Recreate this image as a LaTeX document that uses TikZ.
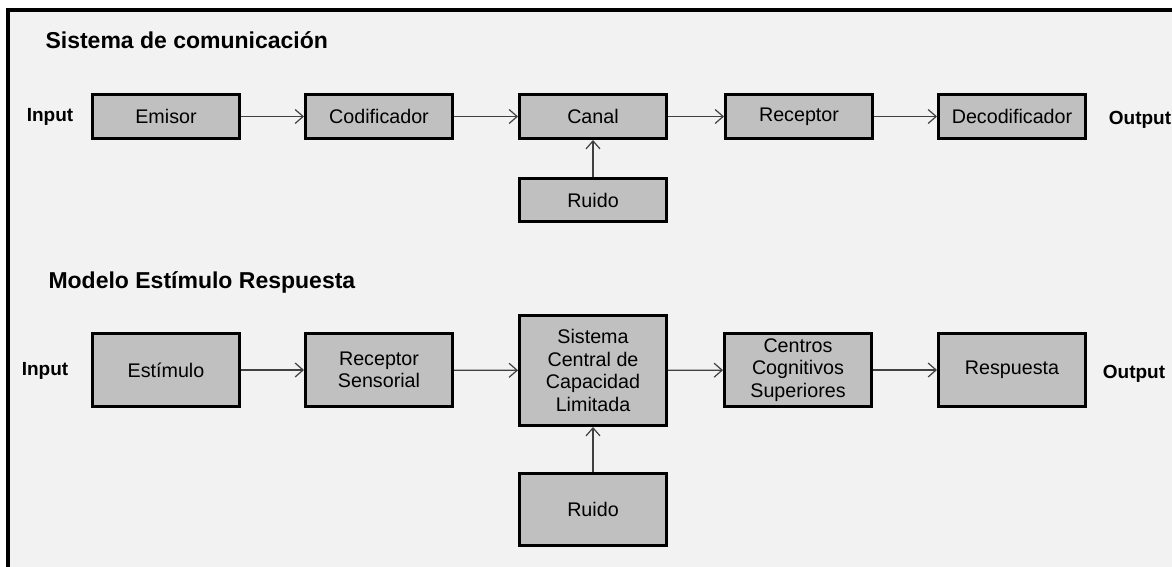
\documentclass[tikz,border=0pt]{standalone}
\usepackage{fontspec}
\setmainfont{Liberation Sans}
\usepackage{xcolor}
\usetikzlibrary{arrows.meta}
\usetikzlibrary{positioning}

\definecolor{boxgray}{HTML}{C0C0C0}
\definecolor{bggray}{HTML}{F2F2F2}
\definecolor{arrowgray}{HTML}{404040}

\tikzset{
    bloque/.style={draw=black, line width=3pt, fill=boxgray, inner sep=2pt,
        minimum width=147pt, align=center,
        font=\fontsize{19.7}{22.5}\selectfont},
    flecha/.style={draw=arrowgray, line width=1.2pt,
        -{Straight Barb[length=8pt,width=14pt,line width=1.2pt]}},
    titulo/.style={anchor=west, font=\fontsize{23}{27}\selectfont\bfseries},
    borde/.style={font=\fontsize{19}{22}\selectfont\bfseries}
}

\begin{document}
\begin{tikzpicture}[x=1pt,y=-1pt]
        \useasboundingbox (0,0) rectangle (1172,567);
        \clip (0,0) rectangle (1172,567);
        \draw[line width=4pt, fill=bggray] (7.5,10) rectangle (1190,590);

        % sistema de comunicacion
        \node[titulo] (t1) at (42,40) {Sistema de comunicación};
        \node[borde] (in1) at (50,117) {Input};
        \node[borde] (out1) at (1140,120) {Output};
        \foreach \n/\x/\txt in {e1/166/Emisor,e2/379/Codificador,e3/593/Canal,e4/799/Receptor,e5/1012/Decodificador} {
            \node[bloque, minimum height=44pt] (\n) at (\x,116.5) {\txt};
        }
        \node[bloque, minimum height=43pt] (r1) at (593,200) {Ruido};
        \foreach \a/\b in {e1/e2,e2/e3,e3/e4,e4/e5} {
            \draw[flecha] (\a) -- (\b);
        }
        \draw[flecha] (r1) -- (e3);

        % modelo estimulo respuesta
        \node[titulo] (t2) at (45,282) {Modelo Estímulo Respuesta};
        \node[borde] (in2) at (45,371) {Input};
        \node[borde] (out2) at (1134,374) {Output};
        \foreach \n/\x/\txt in {m1/166/Estímulo,m2/379/{Receptor\\Sensorial},m4/798/{Centros\\Cognitivos\\Superiores},m5/1012/Respuesta} {
            \node[bloque, minimum height=73pt] (\n) at (\x,370) {\txt};
        }
        \node[bloque, minimum height=110pt] (m3) at (593,370.5) {Sistema\\Central de\\Capacidad\\Limitada};
        \node[bloque, minimum height=72pt] (r2) at (593,509.5) {Ruido};
        \foreach \a/\b in {m1/m2,m2/m3,m3/m4,m4/m5} {
            \draw[flecha] (\a) -- (\b);
        }
        \draw[flecha] (r2) -- (m3);
    \end{tikzpicture}
\end{document}
